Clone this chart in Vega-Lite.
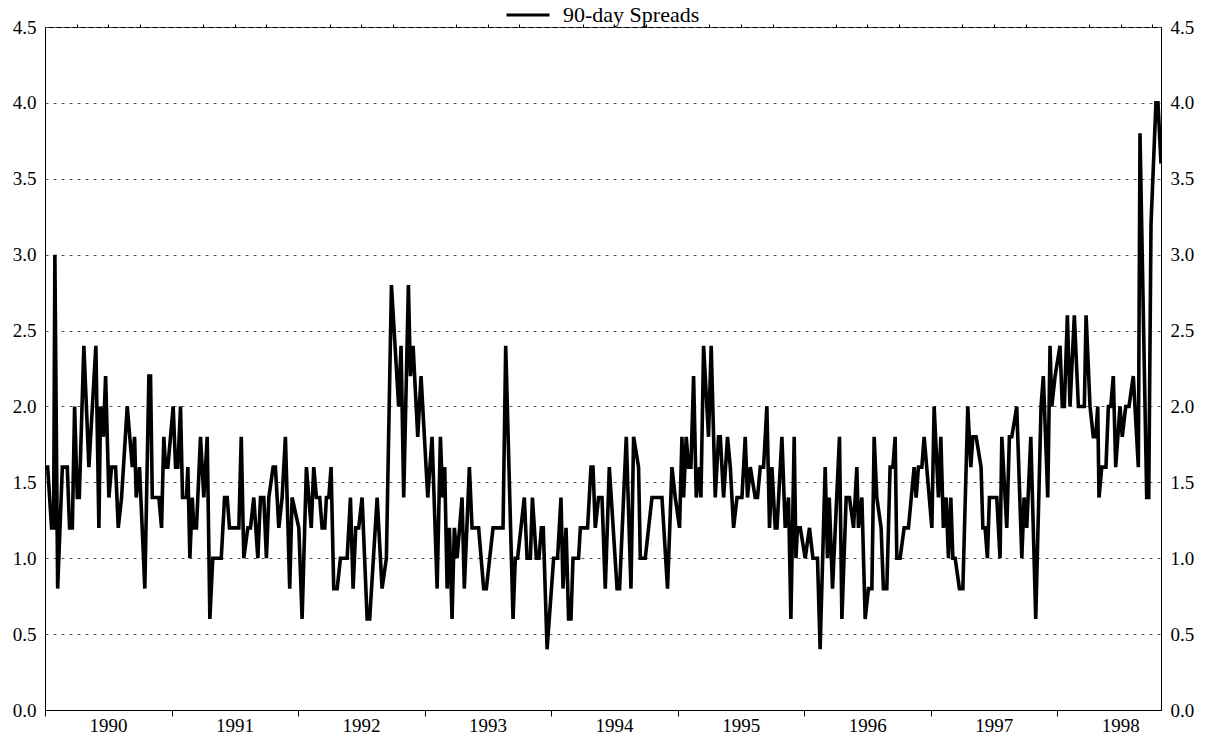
{
  "$schema": "https://vega.github.io/schema/vega-lite/v6.json",
  "width": 1116,
  "height": 683,
  "autosize": {"type": "none"},
  "padding": {"left": 45, "top": 27, "right": 46, "bottom": 26},
  "background": "white",
  "config": {
    "font": "Liberation Serif",
    "view": {"stroke": "black", "strokeWidth": 1},
    "axis": {"labelFont": "Liberation Serif", "labelColor": "black", "labelFontSize": 19, "domainColor": "black", "tickColor": "black", "title": null}
  },
  "data": {"values": [
    {"t":1990.005,"v":1.6},{"t":1990.021,"v":1.6},{"t":1990.052,"v":1.2},{"t":1990.068,"v":1.2},{"t":1990.078,"v":3.0},{"t":1990.100,"v":0.8},{"t":1990.137,"v":1.6},{"t":1990.176,"v":1.6},{"t":1990.194,"v":1.2},{"t":1990.216,"v":1.2},{"t":1990.234,"v":2.0},{"t":1990.255,"v":1.4},{"t":1990.271,"v":1.4},{"t":1990.307,"v":2.4},{"t":1990.347,"v":1.6},{"t":1990.402,"v":2.4},{"t":1990.426,"v":1.2},{"t":1990.439,"v":2.0},{"t":1990.461,"v":1.8},{"t":1990.479,"v":2.2},{"t":1990.505,"v":1.4},{"t":1990.526,"v":1.6},{"t":1990.558,"v":1.6},{"t":1990.579,"v":1.2},{"t":1990.605,"v":1.4},{"t":1990.650,"v":2.0},{"t":1990.690,"v":1.6},{"t":1990.708,"v":1.8},{"t":1990.721,"v":1.4},{"t":1990.747,"v":1.6},{"t":1990.789,"v":0.8},{"t":1990.821,"v":2.2},{"t":1990.834,"v":2.2},{"t":1990.848,"v":1.4},{"t":1990.900,"v":1.4},{"t":1990.921,"v":1.2},{"t":1990.939,"v":1.8},{"t":1990.953,"v":1.6},{"t":1990.971,"v":1.6},
    {"t":1991.013,"v":2.0},{"t":1991.032,"v":1.6},{"t":1991.050,"v":1.6},{"t":1991.071,"v":2.0},{"t":1991.087,"v":1.4},{"t":1991.118,"v":1.4},{"t":1991.129,"v":1.6},{"t":1991.145,"v":1.0},{"t":1991.164,"v":1.4},{"t":1991.176,"v":1.2},{"t":1991.197,"v":1.2},{"t":1991.229,"v":1.8},{"t":1991.255,"v":1.4},{"t":1991.282,"v":1.8},{"t":1991.303,"v":0.6},{"t":1991.326,"v":1.0},{"t":1991.393,"v":1.0},{"t":1991.419,"v":1.4},{"t":1991.440,"v":1.4},{"t":1991.458,"v":1.2},{"t":1991.532,"v":1.2},{"t":1991.551,"v":1.8},{"t":1991.571,"v":1.0},{"t":1991.603,"v":1.2},{"t":1991.624,"v":1.2},{"t":1991.650,"v":1.4},{"t":1991.682,"v":1.0},{"t":1991.703,"v":1.4},{"t":1991.729,"v":1.4},{"t":1991.750,"v":1.0},{"t":1991.769,"v":1.4},{"t":1991.803,"v":1.6},{"t":1991.821,"v":1.6},{"t":1991.848,"v":1.2},{"t":1991.874,"v":1.4},{"t":1991.900,"v":1.8},{"t":1991.934,"v":0.8},{"t":1991.953,"v":1.4},
    {"t":1992.006,"v":1.2},{"t":1992.032,"v":0.6},{"t":1992.066,"v":1.6},{"t":1992.104,"v":1.2},{"t":1992.124,"v":1.6},{"t":1992.145,"v":1.4},{"t":1992.171,"v":1.4},{"t":1992.190,"v":1.2},{"t":1992.211,"v":1.2},{"t":1992.224,"v":1.4},{"t":1992.243,"v":1.4},{"t":1992.261,"v":1.6},{"t":1992.282,"v":0.8},{"t":1992.309,"v":0.8},{"t":1992.335,"v":1.0},{"t":1992.388,"v":1.0},{"t":1992.414,"v":1.4},{"t":1992.435,"v":0.8},{"t":1992.456,"v":1.2},{"t":1992.479,"v":1.2},{"t":1992.506,"v":1.4},{"t":1992.546,"v":0.6},{"t":1992.566,"v":0.6},{"t":1992.625,"v":1.4},{"t":1992.664,"v":0.8},{"t":1992.698,"v":1.0},{"t":1992.738,"v":2.8},{"t":1992.795,"v":2.0},{"t":1992.814,"v":2.4},{"t":1992.835,"v":1.4},{"t":1992.872,"v":2.8},{"t":1992.888,"v":2.2},{"t":1992.909,"v":2.4},{"t":1992.946,"v":1.8},{"t":1992.972,"v":2.2},
    {"t":1993.025,"v":1.4},{"t":1993.059,"v":1.8},{"t":1993.099,"v":0.8},{"t":1993.125,"v":1.8},{"t":1993.143,"v":1.4},{"t":1993.159,"v":1.6},{"t":1993.178,"v":0.8},{"t":1993.196,"v":1.2},{"t":1993.217,"v":0.6},{"t":1993.235,"v":1.2},{"t":1993.257,"v":1.0},{"t":1993.296,"v":1.4},{"t":1993.314,"v":0.8},{"t":1993.354,"v":1.6},{"t":1993.375,"v":1.2},{"t":1993.427,"v":1.2},{"t":1993.467,"v":0.8},{"t":1993.488,"v":0.8},{"t":1993.541,"v":1.2},{"t":1993.620,"v":1.2},{"t":1993.641,"v":2.4},{"t":1993.699,"v":0.6},{"t":1993.717,"v":1.0},{"t":1993.735,"v":1.0},{"t":1993.788,"v":1.4},{"t":1993.810,"v":1.0},{"t":1993.836,"v":1.0},{"t":1993.852,"v":1.4},{"t":1993.883,"v":1.0},{"t":1993.904,"v":1.0},{"t":1993.923,"v":1.2},{"t":1993.938,"v":1.2},{"t":1993.968,"v":0.4},
    {"t":1994.020,"v":1.0},{"t":1994.051,"v":1.0},{"t":1994.078,"v":1.4},{"t":1994.094,"v":0.8},{"t":1994.118,"v":1.2},{"t":1994.138,"v":0.6},{"t":1994.157,"v":0.6},{"t":1994.173,"v":1.0},{"t":1994.217,"v":1.0},{"t":1994.231,"v":1.2},{"t":1994.288,"v":1.2},{"t":1994.315,"v":1.6},{"t":1994.331,"v":1.6},{"t":1994.349,"v":1.2},{"t":1994.375,"v":1.4},{"t":1994.402,"v":1.4},{"t":1994.428,"v":0.8},{"t":1994.460,"v":1.6},{"t":1994.521,"v":0.8},{"t":1994.541,"v":0.8},{"t":1994.594,"v":1.8},{"t":1994.631,"v":0.8},{"t":1994.652,"v":1.8},{"t":1994.691,"v":1.6},{"t":1994.705,"v":1.0},{"t":1994.744,"v":1.0},{"t":1994.797,"v":1.4},{"t":1994.876,"v":1.4},{"t":1994.920,"v":0.8},{"t":1994.955,"v":1.6},{"t":1994.981,"v":1.4},
    {"t":1995.015,"v":1.2},{"t":1995.034,"v":1.8},{"t":1995.047,"v":1.4},{"t":1995.068,"v":1.8},{"t":1995.086,"v":1.6},{"t":1995.105,"v":1.6},{"t":1995.126,"v":2.2},{"t":1995.147,"v":1.4},{"t":1995.173,"v":1.6},{"t":1995.184,"v":1.4},{"t":1995.205,"v":2.4},{"t":1995.244,"v":1.8},{"t":1995.265,"v":2.4},{"t":1995.297,"v":1.4},{"t":1995.323,"v":1.8},{"t":1995.337,"v":1.8},{"t":1995.363,"v":1.4},{"t":1995.394,"v":1.8},{"t":1995.416,"v":1.6},{"t":1995.442,"v":1.2},{"t":1995.469,"v":1.4},{"t":1995.508,"v":1.4},{"t":1995.534,"v":1.8},{"t":1995.552,"v":1.4},{"t":1995.574,"v":1.6},{"t":1995.613,"v":1.4},{"t":1995.631,"v":1.4},{"t":1995.653,"v":1.6},{"t":1995.679,"v":1.6},{"t":1995.705,"v":2.0},{"t":1995.726,"v":1.2},{"t":1995.745,"v":1.6},{"t":1995.771,"v":1.2},{"t":1995.785,"v":1.2},{"t":1995.824,"v":1.8},{"t":1995.850,"v":1.2},{"t":1995.876,"v":1.4},{"t":1995.895,"v":0.6},{"t":1995.921,"v":1.8},{"t":1995.935,"v":1.0},{"t":1995.947,"v":1.2},{"t":1995.969,"v":1.2},
    {"t":1996.008,"v":1.0},{"t":1996.042,"v":1.2},{"t":1996.069,"v":1.0},{"t":1996.105,"v":1.0},{"t":1996.126,"v":0.4},{"t":1996.166,"v":1.6},{"t":1996.184,"v":1.0},{"t":1996.198,"v":1.4},{"t":1996.224,"v":0.8},{"t":1996.279,"v":1.8},{"t":1996.298,"v":0.6},{"t":1996.332,"v":1.4},{"t":1996.358,"v":1.4},{"t":1996.390,"v":1.2},{"t":1996.416,"v":1.6},{"t":1996.429,"v":1.2},{"t":1996.456,"v":1.4},{"t":1996.482,"v":0.6},{"t":1996.508,"v":0.8},{"t":1996.535,"v":0.8},{"t":1996.553,"v":1.8},{"t":1996.574,"v":1.4},{"t":1996.608,"v":1.2},{"t":1996.626,"v":0.8},{"t":1996.653,"v":0.8},{"t":1996.679,"v":1.6},{"t":1996.701,"v":1.6},{"t":1996.719,"v":1.8},{"t":1996.732,"v":1.0},{"t":1996.758,"v":1.0},{"t":1996.790,"v":1.2},{"t":1996.824,"v":1.2},{"t":1996.869,"v":1.6},{"t":1996.885,"v":1.4},{"t":1996.903,"v":1.6},{"t":1996.930,"v":1.6},{"t":1996.948,"v":1.8},
    {"t":1997.009,"v":1.2},{"t":1997.027,"v":2.0},{"t":1997.061,"v":1.4},{"t":1997.080,"v":1.8},{"t":1997.100,"v":1.2},{"t":1997.122,"v":1.4},{"t":1997.140,"v":1.0},{"t":1997.159,"v":1.4},{"t":1997.175,"v":1.0},{"t":1997.193,"v":1.0},{"t":1997.227,"v":0.8},{"t":1997.254,"v":0.8},{"t":1997.293,"v":2.0},{"t":1997.317,"v":1.6},{"t":1997.333,"v":1.8},{"t":1997.359,"v":1.8},{"t":1997.398,"v":1.6},{"t":1997.412,"v":1.2},{"t":1997.430,"v":1.2},{"t":1997.448,"v":1.0},{"t":1997.464,"v":1.4},{"t":1997.522,"v":1.4},{"t":1997.548,"v":1.0},{"t":1997.562,"v":1.8},{"t":1997.601,"v":1.2},{"t":1997.622,"v":1.8},{"t":1997.641,"v":1.8},{"t":1997.680,"v":2.0},{"t":1997.720,"v":1.0},{"t":1997.738,"v":1.4},{"t":1997.759,"v":1.2},{"t":1997.791,"v":1.8},{"t":1997.830,"v":0.6},{"t":1997.872,"v":2.0},{"t":1997.890,"v":2.2},{"t":1997.925,"v":1.4},{"t":1997.943,"v":2.4},{"t":1997.957,"v":2.0},{"t":1997.983,"v":2.2},
    {"t":1998.022,"v":2.4},{"t":1998.040,"v":2.0},{"t":1998.056,"v":2.0},{"t":1998.080,"v":2.6},{"t":1998.101,"v":2.0},{"t":1998.135,"v":2.6},{"t":1998.167,"v":2.0},{"t":1998.214,"v":2.0},{"t":1998.228,"v":2.6},{"t":1998.259,"v":2.0},{"t":1998.285,"v":1.8},{"t":1998.304,"v":1.8},{"t":1998.320,"v":2.0},{"t":1998.330,"v":1.4},{"t":1998.352,"v":1.6},{"t":1998.385,"v":1.6},{"t":1998.404,"v":2.0},{"t":1998.423,"v":2.0},{"t":1998.443,"v":2.2},{"t":1998.462,"v":1.6},{"t":1998.496,"v":2.0},{"t":1998.514,"v":1.8},{"t":1998.541,"v":2.0},{"t":1998.567,"v":2.0},{"t":1998.601,"v":2.2},{"t":1998.641,"v":1.6},{"t":1998.654,"v":3.8},{"t":1998.707,"v":1.4},{"t":1998.723,"v":1.4},{"t":1998.741,"v":3.2},{"t":1998.780,"v":4.0},{"t":1998.796,"v":4.0},{"t":1998.820,"v":3.6}
  ]},
  "layer": [
    {
      "mark": {"type": "line", "strokeWidth": 3.6, "strokeJoin": "miter", "clip": true},
      "encoding": {
        "x": {"field": "t", "type": "quantitative",
          "scale": {"domain": [1990, 1998.82], "nice": false, "zero": false},
          "axis": {"values": [1990, 1991, 1992, 1993, 1994, 1995, 1996, 1997, 1998], "format": "d", "labelOffset": 63, "labelFlush": false, "labelOverlap": false, "tickSize": 6, "labelPadding": 0, "grid": false}},
        "y": {"field": "v", "type": "quantitative",
          "scale": {"domain": [0, 4.5], "nice": false},
          "axis": {"orient": "left", "values": [0, 0.5, 1, 1.5, 2, 2.5, 3, 3.5, 4, 4.5], "format": ".1f", "ticks": false, "labelPadding": 9, "grid": true, "gridDash": [3, 5], "gridColor": "#555555", "gridWidth": 1}},
        "color": {"datum": "90-day Spreads", "type": "nominal",
          "scale": {"range": ["black"]},
          "legend": {"title": null, "orient": "none", "legendX": 460, "legendY": -35, "symbolType": "stroke", "symbolSize": 1849, "symbolStrokeWidth": 3, "labelFont": "Liberation Serif", "labelFontSize": 22, "labelColor": "black", "labelOffset": 12, "padding": 0}}
      }
    },
    {
      "mark": {"type": "line", "strokeOpacity": 0},
      "encoding": {
        "x": {"field": "t", "type": "quantitative",
          "axis": {"values": [1990.25, 1990.5, 1990.75, 1991.25, 1991.5, 1991.75, 1992.25, 1992.5, 1992.75, 1993.25, 1993.5, 1993.75, 1994.25, 1994.5, 1994.75, 1995.25, 1995.5, 1995.75, 1996.25, 1996.5, 1996.75, 1997.25, 1997.5, 1997.75, 1998.25, 1998.5, 1998.75], "labels": false, "domain": false, "grid": false, "tickSize": 3}},
        "y": {"field": "v", "type": "quantitative",
          "axis": {"orient": "right", "values": [0, 0.5, 1, 1.5, 2, 2.5, 3, 3.5, 4, 4.5], "format": ".1f", "ticks": false, "labelPadding": 9, "grid": false}}
      }
    }
  ],
  "resolve": {"axis": {"x": "independent", "y": "independent"}}
}
